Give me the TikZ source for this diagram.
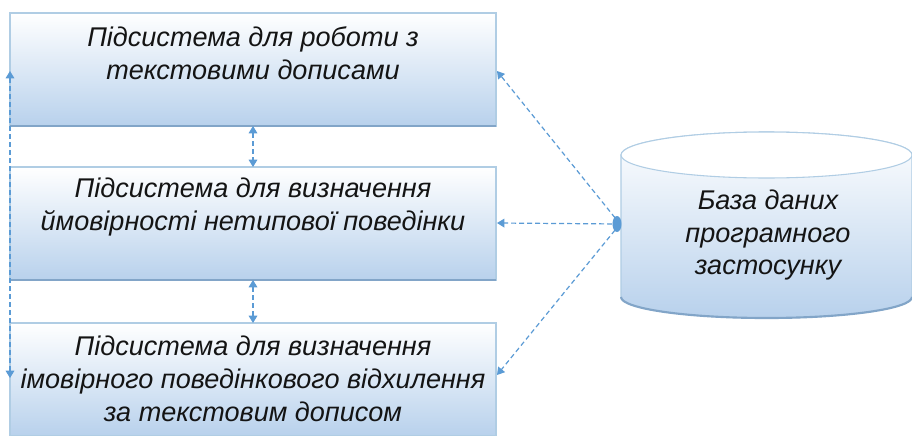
\documentclass[tikz,border=0pt]{standalone}
\usepackage{fontspec}
\setmainfont{Liberation Sans}
\usetikzlibrary{arrows.meta}
\definecolor{edgeblue}{RGB}{176,205,228}
\definecolor{lowblue}{RGB}{130,165,200}
\definecolor{fillblue}{RGB}{184,209,236}
\definecolor{linkblue}{RGB}{91,155,213}
\definecolor{inktext}{RGB}{20,20,20}
\tikzset{
  x=0.75pt,y=-0.75pt,
  boxstyle/.style={draw=edgeblue,line width=0.8pt,top color=white,bottom color=fillblue,minimum width=364.5pt,minimum height=84.75pt,inner sep=0pt,outer sep=0pt},
  lowedge/.style={draw=lowblue,line width=1.6pt},
  label/.style={align=center,font=\fontsize{20.3}{24.6}\selectfont\itshape,text=inktext,inner sep=0pt},
  link/.style={draw=linkblue,line width=0.9pt,dash pattern=on 3.6pt off 2.4pt,{Triangle[width=6.5pt,length=5.5pt]}-{Triangle[width=6.5pt,length=5.5pt]}},
  linkend/.style={draw=linkblue,line width=0.9pt,dash pattern=on 3.6pt off 2.4pt,-{Triangle[width=6.5pt,length=5.5pt]}}
}
\begin{document}
\begin{tikzpicture}
\useasboundingbox (0,0) rectangle (912,435);
\fill[white] (0,0) rectangle (912,435);
\begin{scope}
\clip (0,0) rectangle (912,435);
% boxes
\node[boxstyle] (boxa) at (253,69.5) {};
\node[boxstyle] (boxb) at (253,223.5) {};
\node[boxstyle] (boxc) at (253,379.5) {};
\draw[lowedge] (boxa.south west) -- (boxa.south east);
\draw[lowedge] (boxb.south west) -- (boxb.south east);
% cylinder
\path[top color=white,bottom color=fillblue,draw=edgeblue,line width=0.8pt]
  (621,155) -- (621,297) arc[start angle=180,end angle=0,x radius=145.5,y radius=21] -- (912,155)
  arc[start angle=0,end angle=-180,x radius=145.5,y radius=23] -- cycle;
\draw[lowblue,line width=1.6pt] (621,297) arc[start angle=180,end angle=0,x radius=145.5,y radius=21];
\draw[edgeblue,line width=0.8pt,fill=white] (766.5,155) ellipse[x radius=145.5,y radius=23];
\end{scope}
% labels
\node[label] (texta) at (253,53) {Підсистема для роботи з\\текстовими дописами};
\node[label] (textb) at (253,207) {Підсистема для визначення\\ймовірності нетипової поведінки};
\node[label] (textc) at (253,379) {Підсистема для визначення\\імовірного поведінкового відхилення\\за текстовим дописом};
\node[label] (textd) at (768,235) {База даних\\програмного\\застосунку};
% anchors
\coordinate (dbport) at (620,224);
\coordinate (sideup) at (10,71);
\coordinate (sidedown) at (10,378);
\coordinate (porta) at (497,71);
\coordinate (portb) at (497,223);
\coordinate (portc) at (497,375);
\coordinate (aslow) at (253,126);
\coordinate (bstop) at (253,167);
\coordinate (bslow) at (253,280);
\coordinate (cstop) at (253,323);
% connectors
\draw[link] (sideup) -- (sidedown);
\draw[link] (aslow) -- (bstop);
\draw[link] (bslow) -- (cstop);
\draw[linkend] (dbport) -- (porta);
\draw[linkend] (dbport) -- (portb);
\draw[linkend] (dbport) -- (portc);
\fill[linkblue] (dbport) ++(-3,0) ellipse[x radius=4.5,y radius=8];
\end{tikzpicture}
\end{document}
